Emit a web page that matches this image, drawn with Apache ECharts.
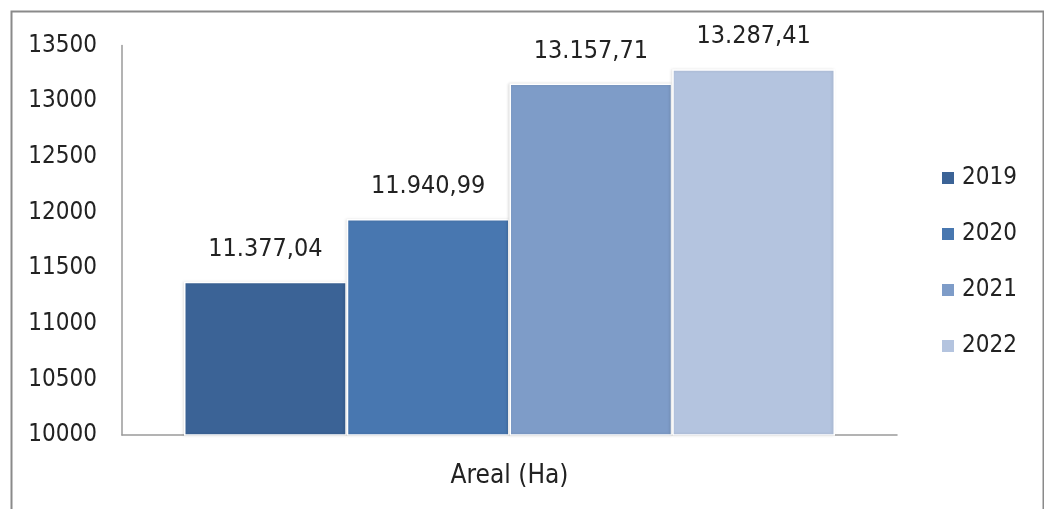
<!DOCTYPE html>
<html>
<head>
<meta charset="utf-8">
<script src="https://cdn.jsdelivr.net/npm/echarts@6/dist/echarts.min.js"></script>
<style>html,body{margin:0;padding:0;background:#fff}#c{width:1044px;height:509px}</style>
</head>
<body>
<div id="c"></div>
<script>
const categories = ['Areal (Ha)'];
const seriesNames = ['2019', '2020', '2021', '2022'];
const values2019 = [11377.04];
const values2020 = [11940.99];
const values2021 = [13157.71];
const values2022 = [13287.41];
const labelTexts = ['11.377,04', '11.940,99', '13.157,71', '13.287,41'];
const colors = ['#3B6396', '#4877B0', '#7E9CC8', '#B4C4DF'];
const FONT = "'Liberation Sans Narrow', 'DejaVu Sans Condensed', 'Noto Sans', sans-serif";

const allValues = [values2019, values2020, values2021, values2022];
const chart = echarts.init(document.getElementById('c'), null, {renderer: 'canvas'});
chart.setOption({
  animation: false,
  backgroundColor: '#fff',
  graphic: [{
    type: 'rect', left: 9, top: 9, shape: {width: 1032, height: 520},
    style: {fill: 'none', stroke: '#8a8a8a', lineWidth: 2}, silent: true
  }],
  grid: {left: 122, right: 147, top: 45.5, bottom: 74},
  legend: {
    orient: 'vertical', left: 940, top: 166, padding: 0,
    itemWidth: 14, itemHeight: 14, itemGap: 32,
    icon: 'rect',
    textStyle: {fontFamily: FONT, fontSize: 24, color: '#222', lineHeight: 24, padding: [0,0,0,2]},
    data: seriesNames
  },
  xAxis: {
    type: 'category', data: categories,
    axisLine: {lineStyle: {color: '#9a9a9a', width: 1.5}},
    axisTick: {show: false},
    axisLabel: {fontFamily: FONT, fontSize: 26, color: '#222', margin: 28}
  },
  yAxis: {
    type: 'value', min: 10000, max: 13500, interval: 500,
    axisLine: {show: true, lineStyle: {color: '#9a9a9a', width: 1.5}},
    axisTick: {show: false},
    splitLine: {show: false},
    axisLabel: {fontFamily: FONT, fontSize: 24, color: '#222', margin: 25, formatter: v => String(v)}
  },
  series: seriesNames.map((n, i) => ({
    name: n, type: 'bar', data: allValues[i],
    barGap: '0%', barCategoryGap: '16%',
    itemStyle: {color: colors[i], borderColor: '#fff', borderWidth: 1.5,
      shadowColor: 'rgba(0,0,0,0.12)', shadowBlur: 3, shadowOffsetX: -1},
    label: {show: true, position: 'top', distance: 20, formatter: () => labelTexts[i],
      fontFamily: FONT, fontSize: 25, color: '#222'}
  }))
});
</script>
</body>
</html>
